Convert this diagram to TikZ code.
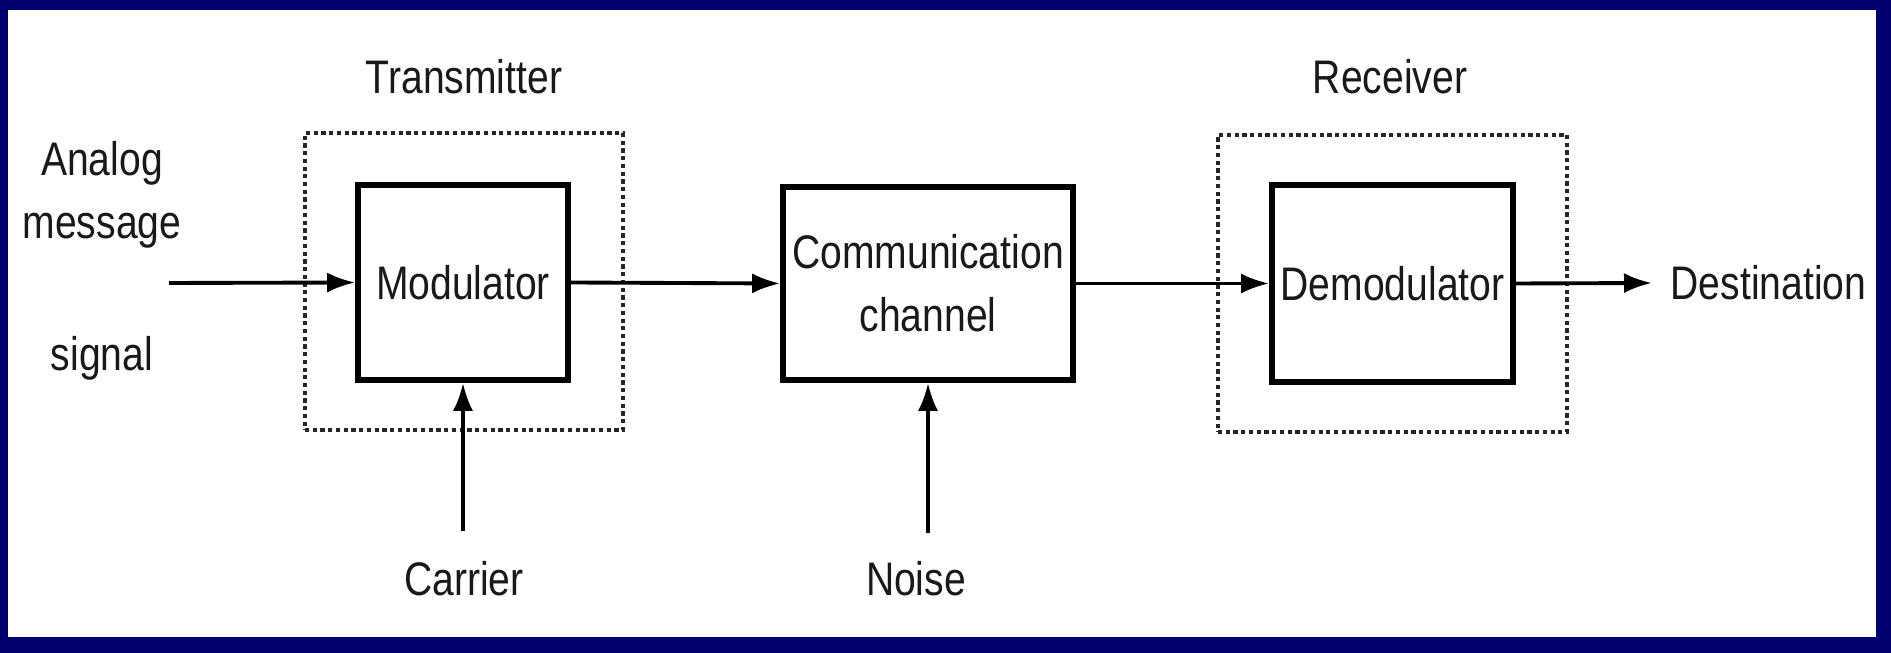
\documentclass[tikz,border=0pt]{standalone}
\usepackage{fontspec}
\setmainfont{Liberation Sans}[FakeStretch=0.83]
\usetikzlibrary{
    arrows.meta,
    positioning,
    calc
}
\definecolor{framenavy}{RGB}{0,0,112}

\begin{document}
\begin{tikzpicture}[
    every node/.style={
        font=\fontsize{13.4pt}{18pt}\selectfont,
        text=black!90
    },
    block/.style={
        rectangle,
        draw=black,
        line width=1.6pt,
        align=center,
        inner sep=0pt,
        fill=white
    },
    unit/.style={
        rectangle,
        draw=black!85,
        densely dotted,
        line width=1.2pt
    },
    arrow/.style={
        -{Latex[length=2.8mm,width=2mm]},
        line width=1.1pt,
        draw=black
    },
    sidelabel/.style={
        align=center,
        inner sep=0pt
    }
]

% ===========================================================
% Frame
% ===========================================================

\fill[framenavy] (0,0) rectangle (18.91,6.53);
\fill[white] (0.08,0.16) rectangle (18.76,6.43);
\useasboundingbox (0,0) rectangle (18.91,6.53);

% ===========================================================
% Transmitter and receiver units
% ===========================================================

\node[unit, minimum width=3.18cm, minimum height=2.97cm] (tx)
    at (4.64,3.715) {};
\node[unit, minimum width=3.49cm, minimum height=2.97cm] (rx)
    at (13.925,3.695) {};

\node (txlabel) at (4.64,5.76) {Transmitter};
\node (rxlabel) at (13.90,5.76) {Receiver};

% ===========================================================
% Blocks
% ===========================================================

\node[block, minimum width=2.10cm, minimum height=1.95cm] (mod)
    at (4.63,3.705) {Modulator};

\node[block, minimum width=2.90cm, minimum height=1.93cm] (chan)
    at (9.28,3.695) {Communication\\channel};

\node[block, minimum width=2.41cm, minimum height=1.97cm] (demod)
    at (13.925,3.695) {Demodulator};

% Source, destination and side inputs
\node[sidelabel] (srctop) at (1.02,4.58) {Analog\\message};
\node[sidelabel] (srcbot) at (1.02,2.95) {signal};
\coordinate (srctail) at (1.69,3.70);

\node[anchor=west, inner sep=0pt, inner xsep=0.18cm] (dest)
    at (16.52,3.70) {Destination};

\node (carrier) at (4.64,0.74) {Carrier};
\coordinate (cartail) at (4.63,1.22);

\node (noise) at (9.16,0.74) {Noise};
\coordinate (noisetail) at (9.28,1.20);

% ===========================================================
% Signal path
% ===========================================================

\draw[arrow] (srctail) -- (mod.west);
\draw[arrow] (mod.east) -- (chan.west);
\draw[arrow] (chan.east) -- (demod.west);
\draw[arrow] (demod.east) -- (dest.west);

\draw[arrow] (cartail) -- (mod.south);
\draw[arrow] (noisetail) -- (chan.south);

\end{tikzpicture}
\end{document}
